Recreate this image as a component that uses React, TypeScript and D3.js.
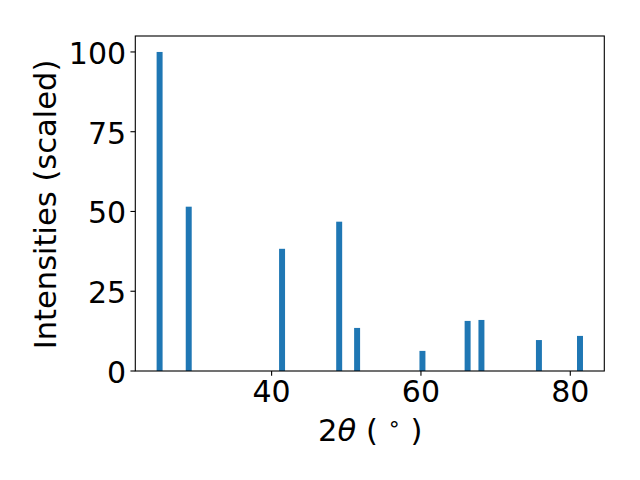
import React from "react";
import * as d3 from "d3";

const angles = [25.0, 28.9, 41.4, 49.05, 51.45, 60.2, 66.25, 68.1, 75.8, 81.3];
const intensities = [100, 51.5, 38.3, 46.8, 13.5, 6.3, 15.7, 16.0, 9.7, 11.0];
const xTicks = [40, 60, 80];
const yTicks = [0, 25, 50, 75, 100];
const barWidth = 0.8;

const W = 640;
const H = 480;
const left = 135.3;
const right = 604.3;
const top = 36;
const bottom = 371;
const FONT = "DejaVu Sans, sans-serif";
const FS = 30;
const LFS = 30.56;

export default function App() {
  const lo = d3.min(angles)! - barWidth / 2;
  const hi = d3.max(angles)! + barWidth / 2;
  const pad = (hi - lo) * 0.05;
  const x = d3.scaleLinear().domain([lo - pad, hi + pad]).range([left, right]);
  const y = d3.scaleLinear().domain([0, 105]).range([bottom, top]);
  const tick = 4.86;

  return (
    <svg width={W} height={H} style={{ position: "absolute", left: 0, top: 0 }}>
      <rect x={0} y={0} width={W} height={H} fill="white" />
      {angles.map((a, i) => (
        <rect
          key={i}
          x={x(a - barWidth / 2)}
          width={x(a + barWidth / 2) - x(a - barWidth / 2)}
          y={y(intensities[i])}
          height={y(0) - y(intensities[i])}
          fill="#1f77b4"
        />
      ))}
      <rect x={left} y={top} width={right - left} height={bottom - top} fill="none" stroke="black" strokeWidth={1.11} />
      {xTicks.map((t) => (
        <g key={t}>
          <line x1={x(t)} x2={x(t)} y1={bottom} y2={bottom + tick} stroke="black" strokeWidth={1.11} />
          <text x={x(t)} y={402} textAnchor="middle" fontFamily={FONT} fontSize={FS}>
            {t}
          </text>
        </g>
      ))}
      {yTicks.map((t) => (
        <g key={t}>
          <line x1={left} x2={left - tick} y1={y(t)} y2={y(t)} stroke="black" strokeWidth={1.11} />
          <text x={left - 2 * tick + 0.5} y={y(t) + 12} textAnchor="end" fontFamily={FONT} fontSize={FS}>
            {t}
          </text>
        </g>
      ))}
      <text x={(left + right) / 2 + 0.5} y={441} textAnchor="middle" fontFamily={FONT} fontSize={LFS} xmlSpace="preserve">
        <tspan>2</tspan>
        <tspan fontStyle="italic">θ</tspan>
        <tspan> ( </tspan>
        <tspan fontSize={LFS * 0.7} dy={-LFS * 0.33}>∘</tspan>
        <tspan dy={LFS * 0.33}> )</tspan>
      </text>
      <text
        transform={`translate(55.7, ${(top + bottom) / 2 + 1}) rotate(-90)`}
        textAnchor="middle"
        fontFamily={FONT}
        fontSize={LFS}
      >
        Intensities (scaled)
      </text>
    </svg>
  );
}
